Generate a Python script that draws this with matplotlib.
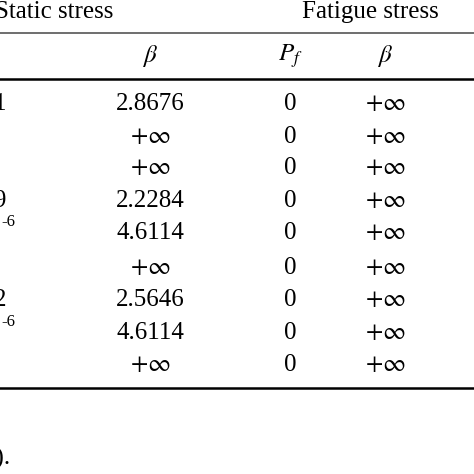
import matplotlib
matplotlib.use("Agg")
import matplotlib.pyplot as plt

beta_static = ["2.8676", "+∞", "+∞", "2.2284", "4.6114", "+∞", "2.5646", "4.6114", "+∞"]
pf_fatigue = ["0"] * 9
beta_fatigue = ["+∞"] * 9
left_frag = {0: "1", 3: "9", 6: "2"}
left_sup = {4: "-6", 7: "-6"}

plt.rcParams['font.family'] = ['Liberation Serif', 'DejaVu Serif']
plt.rcParams['mathtext.fontset'] = 'stix'
fig = plt.figure(figsize=(4.74, 4.74), dpi=100)
ax = fig.add_axes([0, 0, 1, 1])
ax.set_xlim(0, 474); ax.set_ylim(474, 0); ax.axis('off')
fs = 18

def cell(x, y, s):
    if s == "+∞":
        ax.text(x, y, r"$+\infty$", fontsize=fs, ha='center', va='center')
    else:
        ax.text(x, y, s, fontsize=fs, ha='center', va='center')

ax.text(-5, 12, "Static stress", fontsize=fs, va='center', ha='left')
ax.text(370, 12, "Fatigue stress", fontsize=fs, va='center', ha='center')
ax.plot([0, 474], [33, 33], color='#555555', lw=1.2)
ax.plot([0, 474], [79, 79], color='black', lw=1.8)
ax.plot([0, 474], [388, 388], color='black', lw=1.8)
ax.text(150, 56, r"$\beta$", fontsize=fs, ha='center', va='center')
ax.text(290, 56, r"$P_f$", fontsize=fs, ha='center', va='center')
ax.text(385, 56, r"$\beta$", fontsize=fs, ha='center', va='center')
rows = [104, 137, 168, 201, 233, 268, 300, 333, 365]
for i, y in enumerate(rows):
    cell(150, rows[i], beta_static[i])
    cell(290, rows[i], pf_fatigue[i])
    cell(385, rows[i], beta_fatigue[i])
for i, s in left_frag.items():
    ax.text(6, rows[i], s, fontsize=fs, ha='right', va='center')
for i, s in left_sup.items():
    ax.text(15, rows[i] - 11, s, fontsize=12, ha='right', va='center')
ax.text(10, 458, "0).", fontsize=fs, ha='right', va='center')
fig.savefig("out.png", dpi=100)
